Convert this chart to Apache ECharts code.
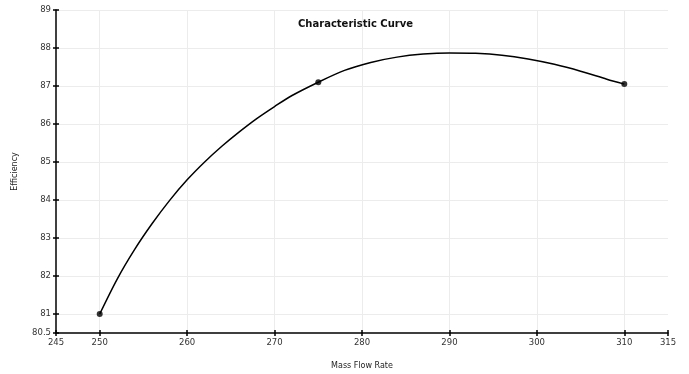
<!DOCTYPE html>
<html><head><meta charset="utf-8">
<script src="https://cdn.jsdelivr.net/npm/echarts@6/dist/echarts.min.js"></script>
<style>html,body{margin:0;padding:0;background:#fff;overflow:hidden}#c{width:689px;height:374px}</style>
</head><body><div id="c"></div>
<script>
const titleText = 'Characteristic Curve';
const xName = 'Mass Flow Rate';
const yName = 'Efficiency';
const xTicks = [245, 250, 260, 270, 280, 290, 300, 310, 315];
const yTicks = [80.5, 81, 82, 83, 84, 85, 86, 87, 88, 89];
const xGrid = [250, 260, 270, 280, 290, 300, 310];
const yGrid = [81, 82, 83, 84, 85, 86, 87, 88, 89];
const pointsX = [250, 275, 310];
const pointsY = [81, 87.1, 87.05];
const curveX = [250, 252, 254, 256, 258, 260, 262, 264, 266, 268, 270, 272, 275, 278, 281, 284, 287, 290, 293, 296, 299, 302, 305, 308, 310];
const curveY = [81, 81.92, 82.7, 83.38, 83.99, 84.53, 85.0, 85.42, 85.8, 86.15, 86.46, 86.75, 87.1, 87.41, 87.62, 87.76, 87.84, 87.87, 87.86, 87.81, 87.71, 87.57, 87.39, 87.18, 87.05];

const font = 'DejaVu Sans';
const chart = echarts.init(document.getElementById('c'), null, {renderer: 'canvas'});
const baseX = {type: 'value', min: 245, max: 315, splitLine: {show: false}};
const baseY = {type: 'value', min: 80.5, max: 89, splitLine: {show: false}};
chart.setOption({
  animation: false,
  backgroundColor: '#fff',
  title: {text: titleText, left: 293, top: 14, textStyle: {fontFamily: font, fontSize: 10, fontWeight: 'bold', color: '#111'}},
  grid: {left: 56, right: 21, top: 10, bottom: 41, containLabel: false, outerBoundsMode: 'none'},
  xAxis: [
    Object.assign({}, baseX, {
      name: xName, nameLocation: 'middle', nameGap: 29,
      nameTextStyle: {fontFamily: font, fontSize: 8, color: '#222'},
      axisLine: {show: true, lineStyle: {color: '#000', width: 1.5}},
      axisTick: {show: true, length: 3, customValues: xTicks, lineStyle: {color: '#000', width: 1.5}},
      axisLabel: {customValues: xTicks, fontFamily: font, fontSize: 8.5, color: '#333', margin: 5}
    }),
    Object.assign({}, baseX, {
      position: 'bottom',
      axisLine: {show: false},
      axisTick: {show: true, inside: true, length: 3, customValues: xTicks, lineStyle: {color: '#000', width: 1.5}},
      axisLabel: {show: false}
    })
  ],
  yAxis: [
    Object.assign({}, baseY, {
      name: yName, nameLocation: 'middle', nameGap: 37,
      nameTextStyle: {fontFamily: font, fontSize: 8, color: '#222'},
      axisLine: {show: true, lineStyle: {color: '#000', width: 1.5}},
      axisTick: {show: true, length: 3, customValues: yTicks, lineStyle: {color: '#000', width: 1.5}},
      axisLabel: {customValues: yTicks, fontFamily: font, fontSize: 8.5, color: '#333', margin: 5}
    }),
    Object.assign({}, baseY, {
      position: 'left',
      axisLine: {show: false},
      axisTick: {show: true, inside: true, length: 3, customValues: yTicks, lineStyle: {color: '#000', width: 1.5}},
      axisLabel: {show: false}
    })
  ],
  series: [
    {
      type: 'line', xAxisIndex: 0, yAxisIndex: 0, silent: true,
      data: [],
      markLine: {
        silent: true, symbol: 'none', label: {show: false}, z: 0,
        lineStyle: {color: '#ececec', width: 1, type: 'solid'},
        data: xGrid.map(v => ({xAxis: v})).concat(yGrid.map(v => ({yAxis: v})))
      },
      z: 0
    },
    {
      type: 'line', xAxisIndex: 0, yAxisIndex: 0,
      data: curveX.map((x, i) => [x, curveY[i]]),
      smooth: 0.3, showSymbol: false,
      lineStyle: {color: '#000', width: 1.5}, z: 3
    },
    {
      type: 'scatter', xAxisIndex: 0, yAxisIndex: 0,
      data: pointsX.map((x, i) => [x, pointsY[i]]),
      symbolSize: 6, itemStyle: {color: '#000'}, z: 10
    }
  ]
});
</script></body></html>
